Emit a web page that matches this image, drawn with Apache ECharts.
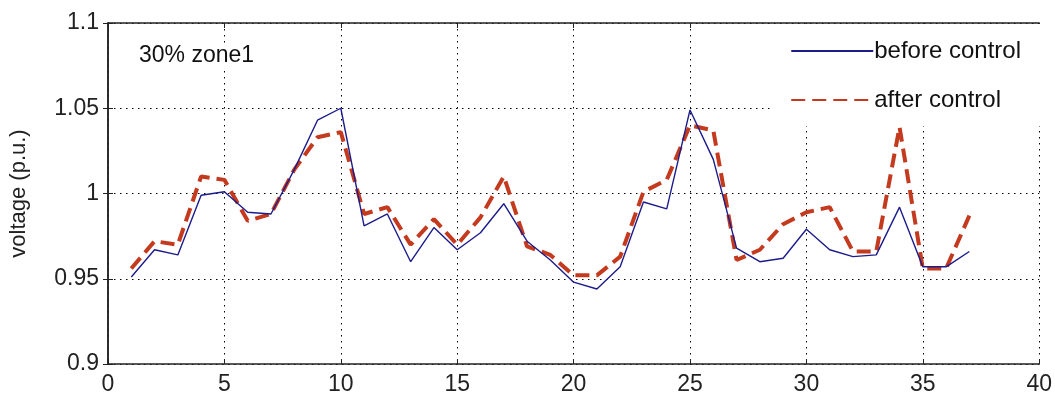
<!DOCTYPE html>
<html>
<head>
<meta charset="utf-8">
<script src="https://cdn.jsdelivr.net/npm/echarts@6/dist/echarts.min.js"></script>
<style>
html,body{margin:0;padding:0;background:#fff;}
#chart{width:1055px;height:405px;}
</style>
</head>
<body>
<div id="chart"></div>
<script>
const nodes = [1,2,3,4,5,6,7,8,9,10,11,12,13,14,15,16,17,18,19,20,21,22,23,24,25,26,27,28,29,30,31,32,33,34,35,36,37];
const beforeControl = [0.951,0.967,0.964,0.999,1.001,0.989,0.988,1.014,1.043,1.050,0.981,0.988,0.960,0.980,0.967,0.977,0.994,0.972,0.961,0.948,0.944,0.957,0.995,0.991,1.049,1.020,0.968,0.960,0.962,0.979,0.967,0.963,0.964,0.992,0.957,0.957,0.966];
const afterControl = [0.956,0.972,0.970,1.010,1.008,0.984,0.988,1.014,1.033,1.036,0.988,0.992,0.970,0.985,0.970,0.986,1.010,0.969,0.964,0.952,0.952,0.963,1.001,1.008,1.040,1.037,0.961,0.967,0.982,0.989,0.992,0.966,0.966,1.039,0.956,0.956,0.987];
const xTicks = {min: 0, max: 40, step: 5};
const yTicks = {min: 0.9, max: 1.1, step: 0.05};
const seriesNames = ['before control', 'after control'];
const annotation = '30% zone1';
const yTitle = 'voltage (p.u.)';

const FONT = '"Liberation Sans", Arial, sans-serif';
const chart = echarts.init(document.getElementById('chart'), null, {renderer: 'canvas'});

const pairs = (ys) => nodes.map((x, i) => [x, ys[i]]);
const gridDots = {show: true, lineStyle: {color: '#000', width: 1, type: [1.5, 4.5]}};
const axisBlack = {show: true, lineStyle: {color: '#222', width: 1.5}};

chart.setOption({
  backgroundColor: '#fff',
  animation: false,
  grid: {left: 106, right: 13, top: 23, bottom: 41, containLabel: false},
  xAxis: [{
    type: 'value', min: xTicks.min, max: xTicks.max, interval: xTicks.step,
    axisLine: axisBlack,
    axisTick: {show: true, inside: true, length: 5, lineStyle: {color: '#222'}},
    axisLabel: {color: '#222', fontFamily: FONT, fontSize: 23, margin: 9},
    splitLine: gridDots
  }, {
    type: 'value', position: 'top', min: xTicks.min, max: xTicks.max, interval: xTicks.step,
    axisLine: axisBlack,
    axisTick: {show: true, inside: true, length: 5, lineStyle: {color: '#222'}},
    axisLabel: {show: false}, splitLine: {show: false}
  }],
  yAxis: [{
    type: 'value', min: yTicks.min, max: yTicks.max, interval: yTicks.step,
    name: yTitle, nameLocation: 'middle', nameRotate: 90, nameGap: 78,
    nameTextStyle: {color: '#222', fontFamily: FONT, fontSize: 22},
    axisLine: axisBlack,
    axisTick: {show: true, inside: true, length: 5, lineStyle: {color: '#222'}},
    axisLabel: {color: '#222', fontFamily: FONT, fontSize: 23, margin: 9},
    splitLine: gridDots
  }, {
    type: 'value', position: 'right', min: yTicks.min, max: yTicks.max, interval: yTicks.step,
    axisLine: axisBlack,
    axisTick: {show: true, inside: true, length: 5, lineStyle: {color: '#222'}},
    axisLabel: {show: false}, splitLine: {show: false}
  }],
  legend: {
    orient: 'vertical', right: 14, top: 24,
    backgroundColor: '#fff', borderWidth: 0,
    padding: [15, 20, 14, 18],
    itemWidth: 82, itemHeight: 24, itemGap: 25,
    itemStyle: {color: 'rgba(0,0,0,0)', borderColor: 'rgba(0,0,0,0)', borderWidth: 0},
    textStyle: {color: '#111', fontFamily: FONT, fontSize: 24, lineHeight: 24, padding: [0, 0, 0, -4]},
    data: seriesNames
  },
  graphic: [{
    type: 'text', left: 139, top: 44, z: 5,
    style: {text: annotation, fill: '#111', font: '23px ' + FONT, backgroundColor: '#fff'}
  }],
  series: [{
    name: seriesNames[0], type: 'line', data: pairs(beforeControl),
    showSymbol: false, symbol: 'none', z: 3,
    lineStyle: {color: '#1c1c8c', width: 1.4},
    itemStyle: {color: '#1c1c8c'}
  }, {
    name: seriesNames[1], type: 'line', data: pairs(afterControl),
    showSymbol: false, symbol: 'none', z: 2,
    lineStyle: {color: '#c43a1e', width: 4, type: [14, 7]},
    itemStyle: {color: '#c43a1e'}
  }]
});
</script>
</body>
</html>
